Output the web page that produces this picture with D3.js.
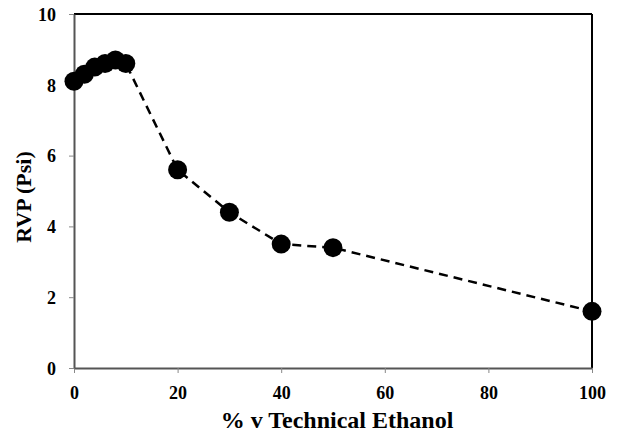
<!DOCTYPE html>
<html>
<head>
<meta charset="utf-8">
<script src="https://cdn.jsdelivr.net/npm/d3@7"></script>
<style>
  body { margin: 0; background: #fff; }
  svg text { font-family: "Liberation Serif", "Times New Roman", serif; font-weight: bold; }
</style>
</head>
<body>
<div id="chart"></div>
<script>
// ethanol blend % vs RVP
const ethanolPct = [0, 2, 4, 6, 8, 10, 20, 30, 40, 50, 100]
const rvpPsi = [8.1, 8.3, 8.5, 8.6, 8.7, 8.6, 5.6, 4.4, 3.5, 3.4, 1.6]
const xTicks = [0, 20, 40, 60, 80, 100]
const yTicks = [0, 2, 4, 6, 8, 10]

const width = 618
const height = 434
const margin = { top: 14, right: 26, bottom: 66, left: 74 }
const innerW = width - margin.left - margin.right
const innerH = height - margin.top - margin.bottom

const svg = d3.select('#chart')
  .append('svg')
  .attr('width', width)
  .attr('height', height)

const g = svg.append('g')
  .attr('transform', `translate(${margin.left},${margin.top})`)

const x = d3.scaleLinear().domain([0, 100]).range([0, innerW])
const y = d3.scaleLinear().domain([0, 10]).range([innerH, 0])

// top and right frame
g.append('line')
  .attr('x1', 0).attr('x2', innerW)
  .attr('y1', 0).attr('y2', 0)
  .attr('stroke', '#000').attr('stroke-width', 2)
g.append('line')
  .attr('x1', innerW).attr('x2', innerW)
  .attr('y1', 0).attr('y2', innerH)
  .attr('stroke', '#000').attr('stroke-width', 2)

// axes
const xAxis = g.append('g')
  .attr('transform', `translate(0,${innerH})`)
  .call(d3.axisBottom(x).tickValues(xTicks).tickSize(5).tickSizeOuter(0))
const yAxis = g.append('g')
  .call(d3.axisLeft(y).tickValues(yTicks).tickSize(5).tickSizeOuter(0))

for (const ax of [xAxis, yAxis]) {
  ax.select('.domain').attr('stroke', '#555').attr('stroke-width', 2)
  ax.selectAll('.tick line').attr('stroke', '#888')
  ax.selectAll('.tick text').attr('fill', '#000').style('font-size', '18px')
}
xAxis.selectAll('.tick text').attr('y', 31).attr('dy', 0)
yAxis.selectAll('.tick text').attr('x', -18).attr('dy', '0.35em')

// axis titles
g.append('text')
  .attr('text-anchor', 'middle')
  .attr('x', x(50) + 4)
  .attr('y', innerH + 60)
  .style('font-size', '24px')
  .text('% v Technical Ethanol')

g.append('text')
  .attr('text-anchor', 'middle')
  .attr('transform', `translate(${-43},${innerH / 2 + 6}) rotate(-90)`)
  .style('font-size', '22px')
  .text('RVP (Psi)')

// dashed line
const data = ethanolPct.map((v, i) => ({ x: v, y: rvpPsi[i] }))
g.append('path')
  .datum(data)
  .attr('fill', 'none')
  .attr('stroke', '#000')
  .attr('stroke-width', 2.5)
  .attr('stroke-dasharray', '9,6')
  .attr('d', d3.line().x(d => x(d.x)).y(d => y(d.y)))

// markers
g.selectAll('.pt')
  .data(data)
  .enter()
  .append('circle')
  .attr('class', 'pt')
  .attr('cx', d => x(d.x))
  .attr('cy', d => y(d.y))
  .attr('r', 9.5)
  .attr('fill', '#000')
</script>
</body>
</html>
